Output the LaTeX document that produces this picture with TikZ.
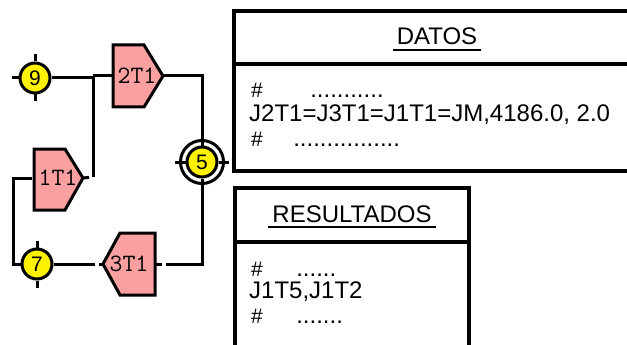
\documentclass[tikz,border=0pt]{standalone}
\usepackage{fontspec}
\setmainfont{Liberation Sans}
\definecolor{pinkc}{RGB}{250,160,160}
\newcommand{\hashsm}{{\fontsize{21}{21}\selectfont\#}}
\begin{document}
\begin{tikzpicture}[x=1pt,y=-1pt,
  conn/.style={line width=3pt},
  boxline/.style={line width=3.2pt},
  tshape/.style={draw,line width=3pt,fill=pinkc,line join=miter},
  tlabel/.style={font=\fontsize{25}{25}\selectfont\ttfamily,inner sep=0pt},
  junc/.style={circle,draw,line width=3pt,fill=yellow,minimum size=30pt,inner sep=0pt,font=\fontsize{21}{21}\selectfont},
  ring/.style={circle,draw,line width=3pt,minimum size=43pt,inner sep=0pt},
  tickl/.style={line width=3pt},
  txtblock/.style={inner sep=0pt,anchor=north west,align=left},
  ttl/.style={font=\fontsize{24}{24}\selectfont,inner xsep=4pt,inner ysep=0pt,anchor=base},
  uline/.style={line width=1.5pt}
]
\useasboundingbox (0,0) rectangle (627,345);
\clip (0,0) rectangle (627,345);

% ---- boxes ----
\draw[boxline] (234,11) rectangle (660,171);
\draw[boxline] (234,64) -- (660,64);
\draw[boxline] (235,188) rectangle (469,380);
\draw[boxline] (235,242) -- (469,242);

\node[ttl] (dt) at (437,45) {DATOS};
\draw[uline] ([yshift=-5pt]dt.base west) -- ([yshift=-5pt]dt.base east);
\node[txtblock,font=\fontsize{24}{24}\selectfont] (dtext) at (249,79)
  {\rule{0pt}{18pt}\hspace*{2pt}\hashsm\hspace*{47.4pt}...........\\
   J2T1=J3T1=J1T1=JM,4186.0, 2.0\\[1pt]
   \hspace*{2pt}\hashsm\hspace*{30.4pt}................};

\node[ttl] (rt) at (352,222) {RESULTADOS};
\draw[uline] ([yshift=-5pt]rt.base west) -- ([yshift=-5pt]rt.base east);
\node[txtblock,font=\fontsize{24}{22}\selectfont] (rtext) at (249,258)
  {\rule{0pt}{18pt}\hspace*{2pt}\hashsm\hspace*{33.4pt}......\\
   J1T5,J1T2\\[3pt]
   \hspace*{2pt}\hashsm\hspace*{33.4pt}.......};

% ---- shapes ----
\draw[tshape] (113,45) -- (144,45) -- (163,76) -- (144,107) -- (113,107) -- cycle;
\node[tlabel] (t2) at (137,76) {2T1};
\coordinate (t2w) at (113,76);
\coordinate (t2e) at (163,76);

\draw[tshape] (34,149) -- (65,149) -- (83,178) -- (65,210) -- (34,210) -- cycle;
\node[tlabel] (t1) at (58,178) {1T1};
\coordinate (t1w) at (34,178);
\coordinate (t1e) at (83,178);

\draw[tshape] (155,233) -- (120,233) -- (103,264) -- (120,295) -- (155,295) -- cycle;
\node[tlabel] (t3) at (129,264) {3T1};
\coordinate (t3w) at (103,264);
\coordinate (t3e) at (155,264);

% ---- junction circles ----
\node[ring] (n5o) at (202,162) {};
\node[junc] (n5) at (202,162) {5};
\node[junc] (n9) at (35,78) {9};
\node[junc] (n7) at (37,264) {7};

\draw[tickl] (n9.north) -- ++(0,-7);
\draw[tickl] (n9.south) -- ++(0,7);
\draw[tickl] (n9.west) -- ++(-7,0);
\draw[tickl] (n7.north) -- ++(0,-7);
\draw[tickl] (n7.south) -- ++(0,7);
\draw[tickl] (n5.west) -- ([xshift=-4pt]n5o.west);
\draw[tickl] (n5.east) -- ([xshift=4pt]n5o.east);

% ---- connectors ----
\coordinate (ja) at (94.5,78);
\coordinate (jb) at (93,76);
\coordinate (jc) at (93,177);
\coordinate (k) at (13,264);
\draw[conn] (n9.east) -- (ja);
\draw[conn] (jb) -- (t2w);
\draw[conn] (jb) -- (jc);
\draw[conn,shorten >=4pt] (t1e) -- (jc);
\draw[conn] (t2e) -| (n5.north);
\draw[conn,shorten >=11pt] (n5.south) |- (t3e);
\draw[conn] (t3e) -- ++(7,0);
\draw[conn,shorten <=8pt] (t3w) -- (n7.east);
\draw[conn] (t3w) -- ++(-4,0);
\draw[conn,shorten >=2pt] (n7.west) -- (k) |- (t1w);
\end{tikzpicture}
\end{document}
